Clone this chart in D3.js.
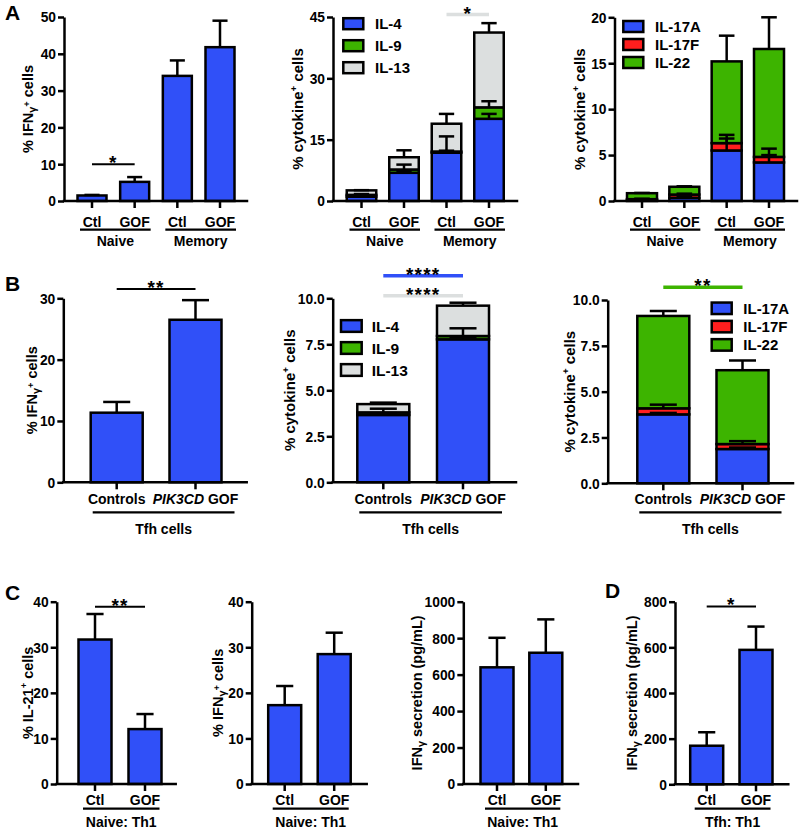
<!DOCTYPE html>
<html><head><meta charset="utf-8">
<script src="https://cdn.jsdelivr.net/npm/d3@7"></script>
<style>body{margin:0;background:#fff}svg text{font-family:"Liberation Sans",Arial,sans-serif;font-weight:bold;fill:#000}</style>
</head><body><script>
// ---------------- DATA ----------------
const catsA = ["Ctl","GOF","Ctl","GOF"];
const groupsA = ["Naive","Memory"];
const catsB = ["Controls","PIK3CD GOF"];
const catsC = ["Ctl","GOF"];
const groupB = "Tfh cells";
const groupC = "Naive: Th1";
const groupD = "Tfh: Th1";
const th2Keys = ["IL-4","IL-9","IL-13"];
const th17Keys = ["IL-17A","IL-17F","IL-22"];

// A
const ifngA = [1.5, 5.2, 34.0, 41.8];
const ifngAErr = [0.15, 1.3, 4.2, 7.2];
const il4A = [1.05, 6.9, 11.8, 20.1];
const il9A = [0.45, 0.8, 0.3, 2.8];
const il13A = [1.1, 3.0, 6.8, 18.3];
const il4AErr = [0.25, 0.5, 4.0, 1.2];
const il9AErr = [0.2, 1.2, 0.2, 1.5];
const il13AErr = [0.05, 1.7, 2.4, 2.3];
const il17aA = [0.1, 0.35, 5.5, 4.2];
const il17fA = [0.1, 0.35, 0.8, 0.6];
const il22A = [0.65, 0.85, 8.9, 11.75];
const il17aAErr = [0.05, 0.1, 1.3, 0.8];
const il17fAErr = [0.05, 0.1, 0.9, 0.9];
const il22AErr = [0.03, 0.05, 2.8, 3.45];
// B
const ifngB = [11.35, 26.5];
const ifngBErr = [1.75, 3.2];
const il4B = [3.66, 7.77];
const il9B = [0.14, 0.18];
const il13B = [0.45, 1.65];
const il4BErr = [0.1, 0.1];
const il9BErr = [0.2, 0.42];
const il13BErr = [0.08, 0.16];
const il17aB = [3.76, 1.87];
const il17fB = [0.33, 0.27];
const il22B = [5.04, 4.03];
const il17aBErr = [0.08, 0.08];
const il17fBErr = [0.2, 0.16];
const il22BErr = [0.27, 0.53];
// C, D
const il21C = [31.7, 12.05];
const il21CErr = [5.6, 3.3];
const ifngC = [17.3, 28.5];
const ifngCErr = [4.2, 4.7];
const ifngSecC = [640, 720];
const ifngSecCErr = [162, 183];
const ifngSecD = [169, 589];
const ifngSecDErr = [59, 102];

// tick values
const ticksA1 = [0,10,20,30,40,50];
const ticksA2 = [0,15,30,45];
const ticksA3 = [0,5,10,15,20];
const ticksB1 = [0,10,20,30];
const ticksB23 = [0,2.5,5,7.5,10];
const ticksC12 = [0,10,20,30,40];
const ticksC3 = [0,200,400,600,800,1000];
const ticksD = [0,200,400,600,800];

// significance
const sigA1 = [{from:0,to:1,at:10,label:"*"}];
const sigA2 = [{from:2,to:3,at:45.6,label:"*",c:"grey"}];
const sigB1 = [{from:0,to:1,at:31.5,label:"**"}];
const sigB2 = [{from:0,to:1,at:11.23,label:"****",c:"blue"},{from:0,to:1,at:10.14,label:"****",c:"grey"}];
const sigB3 = [{from:0,to:1,at:10.7,label:"**",c:"green"}];
const sigC1 = [{from:0,to:1,at:38.9,label:"**"}];
const sigD = [{from:0,to:1,at:779,label:"*"}];

// ---------------- STYLE / LAYOUT ----------------
const COL = {blue:"#3050f8", green:"#3db400", red:"#ff1e1e", grey:"#dcdfdf", black:"#000"};
const FONT = '"Liberation Sans", Arial, sans-serif';
const SW = 2.5;
const svg = d3.select("body").append("svg").attr("width",800).attr("height",828);

const rows = {
  A:{catY:226.5, lineY:229.7, grpY:245.5, und:[-12,16]},
  B:{catY:504, lineY:512.3, grpY:534, und:[-24,39]},
  C:{catY:805, lineY:808.7, grpY:826.5, und:[-12,14.5]}
};

function title(g, x, yc, parts, fs){
  const t = g.append("text").attr("transform",`translate(${x},${yc}) rotate(-90)`)
    .attr("text-anchor","middle").attr("font-size",fs);
  parts.forEach(p=>{
    const s = t.append("tspan").text(p.t);
    if(p.sub){ s.attr("font-size",fs*0.75).attr("dy",3); }
    if(p.sup){ s.attr("font-size",fs*0.65).attr("dy",-6); }
    if(p.back){ s.attr("dy",p.back); }
  });
}
const tIFN = [{t:"% IFN"},{t:"γ",sub:true},{t:"+",sup:true},{t:" cells",back:3}];
const tCyt = [{t:"% cytokine"},{t:"+",sup:true},{t:" cells",back:6}];
const tIL21 = [{t:"% IL-21"},{t:"+",sup:true},{t:" cells",back:6}];
const tSec = [{t:"IFN"},{t:"γ",sub:true},{t:" secretion (pg/mL)",back:-3}];

function drawPanel(p){
  const g = svg.append("g");
  const y = d3.scaleLinear().domain([0,p.max]).range([p.yB,p.yT]);
  const n = p.cats.length;
  const step = (p.c1-p.c0)/(n-1), pi = 1-p.barW/step;
  const x = d3.scaleBand().domain(d3.range(n)).range([p.c0-step/2,p.c1+step/2]).paddingInner(pi).paddingOuter(pi/2);
  const cx = i => x(i)+x.bandwidth()/2;
  // stacked bars via d3.stack
  const keys = p.series.map((s,k)=>k);
  const table = d3.range(n).map(i=>{const o={}; p.series.forEach((s,k)=>o[k]=s.values[i]); return o;});
  const stacked = d3.stack().keys(keys)(table);
  stacked.forEach((layer,k)=>{
    g.append("g").selectAll("rect").data(layer).join("rect")
      .attr("x",(d,i)=>x(i)).attr("width",x.bandwidth())
      .attr("y",d=>y(d[1])).attr("height",d=>y(d[0])-y(d[1]))
      .attr("fill",COL[p.series[k].color]).attr("stroke","#000").attr("stroke-width",SW);
  });
  // error bars
  const cw = x.bandwidth()*0.52;
  stacked.forEach((layer,k)=>{
    const errs = p.series[k].errs;
    const eg = g.append("g").attr("stroke","#000").attr("stroke-width",SW);
    layer.forEach((d,i)=>{
      const top = d[1]+errs[i];
      eg.append("line").attr("x1",cx(i)).attr("x2",cx(i)).attr("y1",y(d[1])).attr("y2",y(top));
      eg.append("line").attr("x1",cx(i)-cw/2).attr("x2",cx(i)+cw/2).attr("y1",y(top)).attr("y2",y(top));
    });
  });
  // y axis
  const ax = g.append("g").attr("transform",`translate(${p.axisX},0)`)
    .call(d3.axisLeft(y).tickValues(p.ticks).tickFormat(p.fmt||d3.format("d")).tickSize(6).tickPadding(2).tickSizeOuter(0));
  ax.attr("font-family",FONT).attr("font-size",13.8).attr("font-weight","bold");
  ax.select(".domain").attr("stroke-width",SW).attr("stroke","#000");
  ax.selectAll(".tick line").attr("stroke-width",SW).attr("stroke","#000");
  ax.selectAll(".tick text").attr("fill","#000").attr("dy","0.35em");
  // x baseline + ticks
  g.append("line").attr("x1",p.axisX).attr("x2",p.axisEnd).attr("y1",y(0)).attr("y2",y(0))
    .attr("stroke","#000").attr("stroke-width",SW).attr("stroke-linecap","square");
  const xa = g.append("g").attr("transform",`translate(0,${y(0)})`)
    .call(d3.axisBottom(x).tickSize(7).tickFormat("").tickSizeOuter(0));
  xa.select(".domain").remove();
  xa.selectAll(".tick line").attr("stroke-width",SW).attr("stroke","#000");
  // category labels
  const r = rows[p.row];
  p.cats.forEach((c,i)=>{
    const t = g.append("text").attr("x",cx(i)).attr("y",r.catY).attr("text-anchor","middle").attr("font-size",14);
    if(c.startsWith("PIK3CD")){ t.append("tspan").attr("font-style","italic").text("PIK3CD"); t.append("tspan").text(" GOF"); }
    else t.text(c);
  });
  // group underlines
  p.groups.forEach(gr=>{
    const x1 = cx(gr.from)+r.und[0], x2 = cx(gr.to)+r.und[1];
    g.append("line").attr("x1",x1).attr("x2",x2).attr("y1",r.lineY).attr("y2",r.lineY).attr("stroke","#000").attr("stroke-width",2.2);
    g.append("text").attr("x",(x1+x2)/2).attr("y",r.grpY).attr("text-anchor","middle").attr("font-size",14).text(gr.label);
  });
  // significance
  (p.sig||[]).forEach(s=>{
    const col = s.c?COL[s.c]:"#000";
    const ly = y(s.at);
    g.append("line").attr("x1",cx(s.from)).attr("x2",cx(s.to)).attr("y1",ly).attr("y2",ly)
      .attr("stroke",col).attr("stroke-width",s.c?3.5:2);
    g.append("text").attr("x",(cx(s.from)+cx(s.to))/2).attr("y",ly+5).attr("text-anchor","middle")
      .attr("font-size",19).attr("letter-spacing",1.2).text(s.label);
  });
  // legend
  if(p.legend){
    const L = p.legend;
    p.series.forEach((s,k)=>{
      const yc = L.y0 + k*L.dy;
      g.append("rect").attr("x",L.x).attr("y",yc-L.h/2).attr("width",L.w).attr("height",L.h)
        .attr("fill",COL[s.color]).attr("stroke","#000").attr("stroke-width",SW);
      g.append("text").attr("x",L.tx).attr("y",yc+L.fs*0.36).attr("font-size",L.fs).text(s.name);
    });
  }
  title(g, p.titleX, (p.yB+p.yT)/2, p.title, p.tfs||14.5);
}

const grpA = [{from:0,to:1,label:groupsA[0]},{from:2,to:3,label:groupsA[1]}];
const grpB = [{from:0,to:1,label:groupB}];
const grpC = [{from:0,to:1,label:groupC}];
const grpD = [{from:0,to:1,label:groupD}];
const f1 = d3.format(".1f");

drawPanel({row:"A",cats:catsA,groups:grpA,axisX:64,axisEnd:247,yB:201,yT:17,max:50,ticks:ticksA1,c0:92,c1:220,barW:29,
  titleX:33,title:tIFN,sig:sigA1,series:[{values:ifngA,errs:ifngAErr,color:"blue"}]});
drawPanel({row:"A",cats:catsA,groups:grpA,axisX:333,axisEnd:517,yB:201,yT:17,max:45,ticks:ticksA2,c0:361.5,c1:489,barW:29.5,
  titleX:303,title:tCyt,tfs:15,sig:sigA2,
  series:[{name:th2Keys[0],values:il4A,errs:il4AErr,color:"blue"},{name:th2Keys[1],values:il9A,errs:il9AErr,color:"green"},{name:th2Keys[2],values:il13A,errs:il13AErr,color:"grey"}],
  legend:{x:343.3,y0:23.7,dy:22,w:20,h:11,tx:375,fs:15}});
drawPanel({row:"A",cats:catsA,groups:grpA,axisX:614.5,axisEnd:797,yB:201,yT:17.3,max:20,ticks:ticksA3,c0:642,c1:769,barW:30,
  titleX:585,title:tCyt,tfs:15,
  series:[{name:th17Keys[0],values:il17aA,errs:il17aAErr,color:"blue"},{name:th17Keys[1],values:il17fA,errs:il17fAErr,color:"red"},{name:th17Keys[2],values:il22A,errs:il22AErr,color:"green"}],
  legend:{x:623.3,y0:26.5,dy:18,w:20,h:11,tx:655,fs:15}});

drawPanel({row:"B",cats:catsB,groups:grpB,axisX:63.3,axisEnd:246.7,yB:482.3,yT:298.3,max:30,ticks:ticksB1,c0:116.7,c1:195.5,barW:52,
  titleX:37,title:tIFN,sig:sigB1,series:[{values:ifngB,errs:ifngBErr,color:"blue"}]});
drawPanel({row:"B",cats:catsB,groups:grpB,axisX:332.7,axisEnd:516,yB:482.3,yT:298.3,max:10,ticks:ticksB23,fmt:f1,c0:383.3,c1:463,barW:52,
  titleX:295,title:tCyt,tfs:15,sig:sigB2,
  series:[{name:th2Keys[0],values:il4B,errs:il4BErr,color:"blue"},{name:th2Keys[1],values:il9B,errs:il9BErr,color:"green"},{name:th2Keys[2],values:il13B,errs:il13BErr,color:"grey"}],
  legend:{x:341,y0:326,dy:22,w:20.7,h:11.7,tx:371.7,fs:15.5}});
drawPanel({row:"B",cats:catsB,groups:grpB,axisX:607.7,axisEnd:793,yB:483.3,yT:300,max:10,ticks:ticksB23,fmt:f1,c0:663.3,c1:742.5,barW:52,
  titleX:575,title:tCyt,tfs:15,sig:sigB3,
  series:[{name:th17Keys[0],values:il17aB,errs:il17aBErr,color:"blue"},{name:th17Keys[1],values:il17fB,errs:il17fBErr,color:"red"},{name:th17Keys[2],values:il22B,errs:il22BErr,color:"green"}],
  legend:{x:711.7,y0:308.3,dy:18.3,w:20,h:11.5,tx:743.3,fs:15}});

drawPanel({row:"C",cats:catsC,groups:grpC,axisX:56.7,axisEnd:175.7,yB:784,yT:601.7,max:40,ticks:ticksC12,c0:95,c1:145,barW:33,
  titleX:33,title:tIL21,sig:sigC1,series:[{values:il21C,errs:il21CErr,color:"blue"}]});
drawPanel({row:"C",cats:catsC,groups:grpC,axisX:251.7,axisEnd:366.7,yB:784,yT:601.7,max:40,ticks:ticksC12,c0:284.7,c1:334.2,barW:33,
  titleX:223,title:tIFN,series:[{values:ifngC,errs:ifngCErr,color:"blue"}]});
drawPanel({row:"C",cats:catsC,groups:grpC,axisX:463.3,axisEnd:578,yB:784,yT:601.7,max:1000,ticks:ticksC3,c0:497,c1:545.8,barW:33,
  titleX:422,title:tSec,series:[{values:ifngSecC,errs:ifngSecCErr,color:"blue"}]});
drawPanel({row:"C",cats:catsC,groups:grpD,axisX:675,axisEnd:788.3,yB:784.3,yT:601.7,max:800,ticks:ticksD,c0:706.7,c1:756,barW:33,
  titleX:637,title:tSec,sig:sigD,series:[{values:ifngSecD,errs:ifngSecDErr,color:"blue"}]});

// panel letters
[["A",5,20],["B",5,291],["C",5,600],["D",605,598]].forEach(([t,x,yy])=>{
  svg.append("text").attr("x",x).attr("y",yy).attr("font-size",21).text(t);
});
</script></body></html>
